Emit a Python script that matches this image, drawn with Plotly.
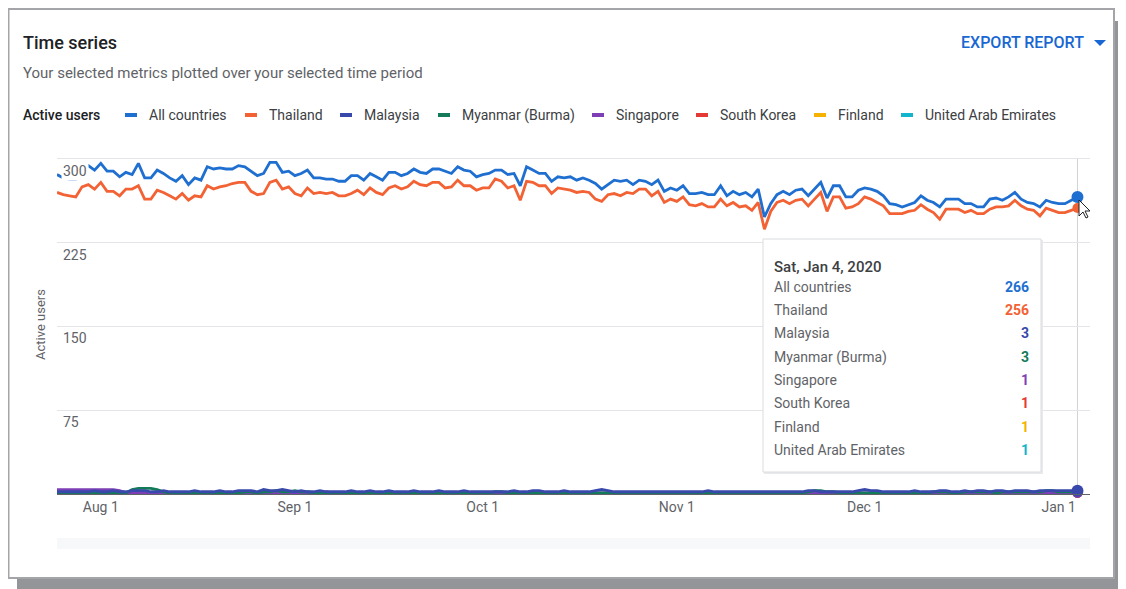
import plotly.graph_objects as go
import pandas as pd

# The page body has an 8px margin, so the figure is 8px smaller than the window
# and all positions below are given in window pixels.
OFF = 8
W, H = 1126 - OFF, 589 - OFF
L, R, T, B = 57 - OFF, 36, 150 - OFF, 95
PW, PH = W - L - R, H - T - B


def px(x):
    return (x - OFF - L) / PW


def py(y):
    return (H - B - (y - OFF)) / PH


FONT = "Roboto, Arial, sans-serif"

# ---------------- data ----------------
dates = pd.date_range("2019-07-25", "2020-01-04", freq="D")

all_countries = [
    286, 283, 282, 282, 292, 294, 290, 296, 289, 289,
    284, 288, 286, 296, 283, 283, 290, 287, 283, 280,
    285, 277, 283, 281, 293, 291, 292, 291, 291, 294,
    293, 289, 285, 287, 297, 297, 288, 289, 285, 287,
    290, 283, 283, 282, 282, 280, 280, 285, 285, 281,
    287, 284, 281, 288, 288, 285, 287, 291, 288, 287,
    291, 291, 289, 287, 293, 290, 289, 284, 286, 287,
    290, 290, 286, 287, 276, 293, 290, 287, 287, 280,
    284, 283, 284, 281, 283, 281, 278, 273, 277, 281,
    280, 281, 277, 281, 280, 277, 281, 271, 274, 272,
    276, 269, 269, 270, 268, 268, 276, 267, 271, 268,
    270, 266, 273, 248, 260, 268, 271, 268, 272, 273,
    267, 273, 279, 265, 276, 276, 266, 266, 272, 274,
    273, 271, 267, 260, 259, 257, 259, 261, 267, 263,
    261, 257, 264, 264, 264, 260, 260, 257, 257, 264,
    265, 263, 266, 270, 264, 261, 260, 257, 263, 261,
    260, 260, 263, 266,
]

thailand = [
    270, 268, 267, 266, 275, 277, 273, 279, 271, 271,
    267, 273, 273, 276, 264, 264, 272, 270, 267, 264,
    269, 263, 267, 266, 276, 273, 275, 276, 278, 279,
    279, 271, 268, 269, 279, 281, 273, 275, 269, 267,
    274, 269, 270, 269, 270, 267, 267, 269, 272, 268,
    274, 270, 268, 274, 276, 273, 275, 280, 277, 276,
    279, 279, 274, 275, 281, 276, 276, 272, 274, 274,
    282, 280, 274, 276, 263, 280, 279, 276, 276, 269,
    274, 273, 272, 270, 271, 270, 264, 262, 268, 269,
    267, 270, 269, 273, 273, 267, 271, 261, 264, 262,
    266, 259, 258, 260, 257, 257, 264, 258, 261, 257,
    258, 254, 261, 237, 253, 261, 263, 260, 263, 264,
    258, 264, 270, 253, 266, 266, 256, 257, 260, 266,
    264, 261, 258, 251, 251, 251, 253, 254, 259, 255,
    252, 246, 255, 255, 255, 252, 254, 251, 251, 255,
    257, 257, 258, 263, 258, 255, 254, 249, 256, 254,
    252, 252, 254, 256,
]

malaysia = [
    2, 2, 2, 2, 2, 2, 3, 2, 2, 3,
    2, 2, 3, 3, 3, 2, 2, 3, 2, 2,
    2, 2, 3, 2, 2, 2, 3, 2, 2, 3,
    3, 3, 2, 4, 3, 3, 4, 3, 2, 3,
    2, 2, 3, 2, 2, 2, 2, 3, 2, 2,
    3, 2, 2, 3, 2, 2, 2, 3, 2, 2,
    2, 3, 2, 2, 2, 3, 2, 2, 2, 2,
    2, 2, 2, 3, 2, 2, 3, 3, 2, 2,
    2, 3, 2, 2, 2, 2, 3, 4, 3, 2,
    2, 2, 2, 2, 2, 2, 2, 2, 2, 2,
    2, 2, 2, 2, 3, 2, 2, 2, 2, 2,
    2, 2, 2, 2, 2, 2, 2, 2, 2, 2,
    3, 3, 2, 2, 2, 2, 2, 2, 3, 4,
    3, 3, 2, 2, 2, 2, 2, 3, 2, 2,
    2, 3, 3, 2, 2, 3, 2, 3, 3, 2,
    3, 3, 2, 3, 3, 3, 2, 3, 3, 3,
    3, 3, 3, 3,
]

myanmar = [
    1, 1, 1, 1, 1, 1, 1, 1, 1, 1,
    1, 1, 4, 5, 5, 5, 4, 2, 1, 1,
    1, 1, 1, 1, 1, 1, 1, 1, 1, 1,
    2, 2, 1, 2, 2, 3, 2, 2, 3, 2,
    2, 1, 1, 1, 1, 1, 1, 1, 1, 1,
    1, 1, 1, 1, 1, 1, 1, 1, 1, 1,
    1, 1, 1, 1, 1, 1, 1, 1, 1, 1,
    2, 2, 1, 1, 1, 1, 1, 1, 1, 1,
    1, 1, 1, 1, 1, 1, 1, 1, 1, 1,
    1, 1, 1, 1, 1, 1, 1, 1, 1, 1,
    1, 1, 1, 1, 1, 1, 1, 1, 1, 1,
    1, 1, 1, 1, 1, 1, 1, 1, 1, 1,
    2, 3, 3, 2, 2, 1, 1, 1, 1, 1,
    1, 1, 1, 1, 1, 1, 1, 1, 1, 1,
    2, 2, 2, 1, 1, 2, 2, 2, 2, 2,
    1, 2, 2, 2, 2, 2, 2, 2, 3, 3,
    2, 2, 2, 3,
]

singapore = [
    4, 4, 4, 4, 4, 4, 4, 4, 4, 4,
    3, 1, 1, 1, 1, 1, 1, 1, 1, 1,
    1, 1, 1, 1, 1, 1, 1, 1, 1, 1,
    1, 1, 1, 1, 1, 1, 1, 1, 1, 1,
    1, 1, 1, 2, 1, 1, 1, 1, 1, 1,
    1, 1, 1, 1, 1, 1, 1, 1, 1, 1,
    1, 1, 1, 1, 1, 1, 1, 1, 1, 1,
    1, 1, 1, 1, 1, 1, 1, 1, 1, 1,
    1, 1, 1, 1, 1, 1, 1, 1, 1, 1,
    1, 1, 1, 1, 1, 1, 1, 1, 1, 1,
    1, 1, 1, 1, 1, 1, 1, 1, 1, 1,
    1, 1, 1, 1, 1, 1, 1, 1, 1, 1,
    1, 1, 1, 1, 1, 1, 1, 1, 1, 1,
    1, 1, 1, 1, 1, 1, 1, 1, 1, 1,
    1, 1, 1, 1, 1, 1, 1, 1, 1, 1,
    1, 1, 1, 1, 1, 1, 1, 1, 1, 1,
    1, 1, 1, 1,
]

south_korea = [
    0, 0, 0, 0, 0, 0, 0, 0, 0, 0,
    1, 1, 1, 1, 1, 1, 1, 1, 1, 1,
    0, 0, 0, 0, 0, 0, 0, 0, 0, 0,
    1, 1, 1, 1, 1, 1, 1, 1, 0, 0,
    0, 0, 0, 0, 0, 0, 0, 0, 0, 0,
    0, 0, 0, 0, 0, 0, 0, 0, 0, 0,
    1, 1, 1, 1, 1, 1, 1, 1, 1, 1,
    1, 1, 1, 1, 1, 1, 1, 1, 1, 1,
    0, 0, 0, 0, 0, 0, 0, 0, 0, 0,
    1, 1, 1, 1, 1, 1, 1, 1, 1, 1,
    1, 1, 1, 1, 1, 1, 1, 1, 1, 1,
    1, 1, 1, 1, 1, 1, 1, 1, 0, 0,
    0, 0, 0, 0, 0, 0, 0, 0, 0, 0,
    0, 0, 0, 0, 0, 0, 0, 0, 0, 0,
    1, 1, 1, 1, 1, 1, 1, 1, 1, 1,
    1, 1, 1, 1, 1, 1, 1, 1, 1, 1,
    1, 1, 1, 1,
]

finland = [
    0, 0, 0, 0, 0, 0, 0, 0, 0, 0,
    0, 0, 0, 0, 0, 0, 0, 0, 0, 0,
    0, 0, 0, 0, 0, 0, 0, 0, 0, 0,
    0, 0, 0, 0, 0, 0, 0, 0, 0, 0,
    1, 1, 1, 1, 1, 1, 1, 1, 1, 1,
    1, 1, 1, 1, 1, 1, 1, 1, 1, 1,
    1, 1, 1, 1, 1, 1, 1, 1, 1, 1,
    1, 1, 1, 1, 1, 1, 1, 1, 1, 1,
    0, 0, 0, 0, 0, 0, 0, 0, 0, 0,
    0, 0, 0, 0, 0, 0, 0, 0, 0, 0,
    0, 0, 0, 0, 0, 0, 0, 0, 0, 0,
    0, 0, 0, 0, 0, 0, 0, 0, 0, 0,
    0, 0, 0, 0, 0, 0, 0, 0, 0, 0,
    0, 0, 0, 0, 0, 0, 0, 0, 0, 0,
    0, 0, 0, 0, 0, 0, 0, 0, 0, 0,
    0, 0, 0, 0, 0, 0, 0, 1, 1, 1,
    1, 1, 1, 1,
]

uae = [
    0, 0, 0, 0, 0, 0, 0, 0, 0, 0,
    0, 0, 0, 0, 0, 0, 0, 0, 0, 0,
    0, 0, 0, 0, 0, 0, 0, 0, 0, 0,
    0, 0, 0, 0, 0, 0, 0, 0, 0, 0,
    0, 0, 0, 0, 0, 0, 0, 0, 0, 0,
    0, 0, 0, 0, 0, 0, 0, 0, 0, 0,
    0, 0, 0, 0, 0, 0, 0, 0, 0, 0,
    0, 0, 0, 0, 1, 1, 1, 0, 0, 0,
    0, 0, 0, 0, 0, 0, 0, 0, 0, 0,
    0, 0, 0, 0, 0, 0, 0, 0, 0, 0,
    0, 0, 0, 0, 0, 0, 0, 0, 0, 0,
    0, 0, 0, 0, 0, 0, 0, 0, 0, 0,
    0, 0, 0, 0, 0, 0, 0, 0, 0, 0,
    0, 0, 0, 0, 0, 0, 0, 0, 0, 0,
    0, 0, 0, 0, 0, 0, 0, 0, 0, 0,
    0, 0, 0, 0, 0, 1, 1, 1, 1, 1,
    1, 1, 1, 1,
]

series_names = ["All countries", "Thailand", "Malaysia", "Myanmar (Burma)",
                "Singapore", "South Korea", "Finland", "United Arab Emirates"]
series_values = [all_countries, thailand, malaysia, myanmar,
                 singapore, south_korea, finland, uae]
series_colors = ["#1f6fd1", "#f26234", "#3949ab", "#137a5a",
                 "#7e3fb6", "#e53935", "#f5b300", "#12b5cb"]

x_tick_vals = ["2019-08-01", "2019-09-01", "2019-10-01",
               "2019-11-01", "2019-12-01", "2020-01-01"]
x_tick_text = ["Aug 1", "Sep 1", "Oct 1", "Nov 1", "Dec 1", "Jan 1"]
y_tick_vals = [75, 150, 225, 300]

for v in series_values:
    assert len(v) == len(dates), len(v)

# ---------------- figure ----------------
fig = go.Figure()

for name, vals, col in reversed(list(zip(series_names, series_values, series_colors))):
    fig.add_trace(go.Scatter(x=dates, y=vals, mode="lines", name=name,
                             line=dict(color=col, width=2.8), hoverinfo="skip"))

for name, vals, col in reversed(list(zip(series_names, series_values, series_colors))):
    size = 12 if name in ("All countries", "Malaysia") else 10
    fig.add_trace(go.Scatter(x=[dates[-1]], y=[vals[-1]], mode="markers",
                             marker=dict(color=col, size=size, line=dict(width=0)),
                             cliponaxis=False, hoverinfo="skip"))

shapes = []
# card shadow + card
shapes.append(dict(type="rect", xref="paper", yref="paper", layer="below",
                   x0=px(17), x1=px(1140), y0=py(600), y1=py(21),
                   fillcolor="#939598", line=dict(width=0)))
shapes.append(dict(type="rect", xref="paper", yref="paper", layer="below",
                   x0=px(8.5), x1=px(1114), y0=py(578), y1=py(9),
                   fillcolor="white", line=dict(color="#a3a5a8", width=2)))
# faint scroll strip under the axis
shapes.append(dict(type="rect", xref="paper", yref="paper", layer="below",
                   x0=px(57), x1=px(1090), y0=py(549), y1=py(538),
                   fillcolor="#f7f8f9", line=dict(width=0)))
# crosshair
shapes.append(dict(type="line", xref="x", yref="paper", layer="below",
                   x0=dates[-1], x1=dates[-1], y0=0, y1=py(158),
                   line=dict(color="#cfd2d6", width=1)))
# export arrow
shapes.append(dict(type="path", xref="paper", yref="paper",
                   path=f"M {px(1094)} {py(40)} L {px(1106)} {py(40)} L {px(1100)} {py(46)} Z",
                   fillcolor="#1967d2", line=dict(width=0)))
# legend markers
legend_text_x = [147, 267, 362, 460, 614, 718, 836, 923]
for tx, col in zip(legend_text_x, series_colors):
    shapes.append(dict(type="line", xref="paper", yref="paper",
                       x0=px(tx - 22), x1=px(tx - 10), y0=py(115), y1=py(115),
                       line=dict(color=col, width=4)))
# tooltip
shapes.append(dict(type="rect", xref="paper", yref="paper", layer="above",
                   x0=px(764), x1=px(1043), y0=py(474), y1=py(240),
                   fillcolor="#e9eaec", line=dict(width=0)))
shapes.append(dict(type="rect", xref="paper", yref="paper", layer="above",
                   x0=px(763), x1=px(1041), y0=py(472), y1=py(239),
                   fillcolor="white", line=dict(color="#dadce0", width=1)))
# mouse cursor
cx, cy = 1079, 200
pts = [(0, 0), (0, 16), (4, 12), (7, 18), (9, 17), (6, 11), (11, 11)]
path = "M " + " L ".join(f"{px(cx + a)} {py(cy + b)}" for a, b in pts) + " Z"
shapes.append(dict(type="path", xref="paper", yref="paper", layer="above",
                   path=path, fillcolor="white", line=dict(color="#202124", width=1)))

annotations = []


def ann(text, x, y, size=14, color="#5f6368", xanchor="left", weight=400, **kw):
    d = dict(text=text, xref="paper", yref="paper", x=px(x), y=py(y),
             xanchor=xanchor, yanchor="middle", showarrow=False,
             font=dict(family=FONT, size=size, color=color, weight=weight))
    d.update(kw)
    annotations.append(d)


ann("Time series", 21, 42, size=18, color="#202124", weight=500)
ann("Your selected metrics plotted over your selected time period", 21, 73, size=15)
ann("EXPORT REPORT", 1086, 43, size=16, color="#1967d2", xanchor="right", weight=500)
ann("Active users", 21, 115, color="#202124", weight=500)
for tx, name in zip(legend_text_x, series_names):
    ann(name, tx, 115, color="#3c4043")

ann("Active users", 40, 325, size=13, xanchor="center", textangle=-90)

for v in y_tick_vals:
    annotations.append(dict(text=str(v), xref="paper", yref="y", x=px(61), y=v,
                            xanchor="left", yanchor="top", yshift=-2, showarrow=False,
                            bgcolor="white", borderpad=1,
                            font=dict(family=FONT, size=14, color="#5f6368")))

# tooltip text
ann(dates[-1].strftime("%a, %b %-d, %Y"), 772, 267, size=15, color="#3c4043", weight=500)
row_y = [287, 310, 333, 357, 380, 403, 427, 450]
for ry, name, vals, col in zip(row_y, series_names, series_values, series_colors):
    ann(name, 772, ry)
    ann(str(vals[-1]), 1031, ry, color=col, xanchor="right", weight=700)

fig.update_layout(
    width=W, height=H,
    margin=dict(l=L, r=R, t=T, b=B),
    paper_bgcolor="white", plot_bgcolor="white",
    showlegend=False,
    font=dict(family=FONT, size=14, color="#5f6368"),
    xaxis=dict(type="date", range=["2019-07-25", "2020-01-06"],
               tickvals=x_tick_vals, ticktext=x_tick_text,
               showgrid=False, zeroline=False, showline=True,
               linecolor="#5f6368", linewidth=1, ticks="",
               tickfont=dict(family=FONT, size=14, color="#5f6368")),
    yaxis=dict(range=[0, 308], tickvals=y_tick_vals, showticklabels=False,
               showgrid=True, gridcolor="#e3e5e8", gridwidth=1,
               zeroline=False, showline=False),
    shapes=shapes,
    annotations=annotations,
)

fig.write_html("out.html")
